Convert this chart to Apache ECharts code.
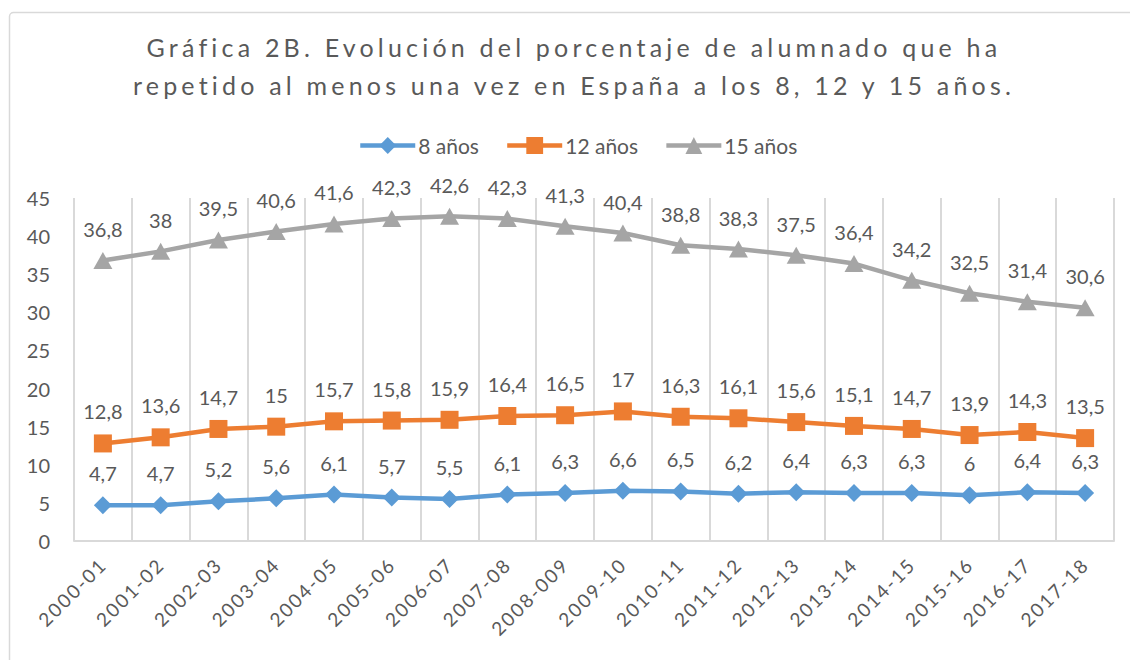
<!DOCTYPE html>
<html>
<head>
<meta charset="utf-8">
<script src="https://cdn.jsdelivr.net/npm/echarts@6/dist/echarts.min.js"></script>
<style>
  html, body { margin: 0; padding: 0; background: #fff; overflow: hidden; }
  #wrap { position: relative; width: 1130px; height: 660px; }
  #chart { position: absolute; left: 0; top: 0; width: 1130px; height: 660px; }
  #title {
    position: absolute; left: 0; top: 28px; width: 1148px;
    text-align: center; font-family: Lato, sans-serif; font-size: 25px;
    line-height: 38px; letter-spacing: 4.2px; color: #595959;
  }
</style>
</head>
<body>
<div id="wrap">
  <div id="chart"></div>
  <div id="title">Gráfica 2B. Evolución del porcentaje de alumnado que ha<br>repetido al menos una vez en España a los 8, 12 y 15 años.</div>
</div>
<script>
"use strict";

const categories = [
  "2000-01", "2001-02", "2002-03", "2003-04", "2004-05", "2005-06",
  "2006-07", "2007-08", "2008-009", "2009-10", "2010-11", "2011-12",
  "2012-13", "2013-14", "2014-15", "2015-16", "2016-17", "2017-18"
];
const edad8 = [4.7, 4.7, 5.2, 5.6, 6.1, 5.7, 5.5, 6.1, 6.3, 6.6, 6.5, 6.2, 6.4, 6.3, 6.3, 6, 6.4, 6.3];
const edad12 = [12.8, 13.6, 14.7, 15, 15.7, 15.8, 15.9, 16.4, 16.5, 17, 16.3, 16.1, 15.6, 15.1, 14.7, 13.9, 14.3, 13.5];
const edad15 = [36.8, 38, 39.5, 40.6, 41.6, 42.3, 42.6, 42.3, 41.3, 40.4, 38.8, 38.3, 37.5, 36.4, 34.2, 32.5, 31.4, 30.6];
const seriesNames = ["8 años", "12 años", "15 años"];
const colors = ["#5B9BD5", "#ED7D31", "#A5A5A5"];

const font = "Lato, sans-serif";
const textGray = "#595959";
const gridGray = "#d9d9d9";

function makeSeries(name, data, color, symbol, size) {
  return {
    name,
    type: "line",
    data,
    color,
    symbol,
    symbolSize: size,
    lineStyle: { width: 4.5, color },
    itemStyle: { color },
    label: {
      show: true,
      position: "top",
      distance: 13,
      fontFamily: font,
      fontSize: 20,
      color: textGray,
      formatter: p => String(p.value).replace(".", ",")
    },
    emphasis: { disabled: true }
  };
}

const chart = echarts.init(document.getElementById("chart"), null, {
  renderer: "svg"
});

chart.setOption({
  animation: false,
  textStyle: { fontFamily: font },
  graphic: [
    {
      type: "rect",
      shape: { x: 9.5, y: 12.5, width: 1300, height: 800, r: 4 },
      style: { fill: "none", stroke: gridGray, lineWidth: 1.5 },
      silent: true
    }
  ],
  legend: {
    top: 135,
    left: 358,
    padding: 0,
    itemWidth: 55,
    itemHeight: 21,
    itemGap: 26,
    lineStyle: { width: 4.5 },
    textStyle: { fontFamily: font, fontSize: 21, color: textGray, padding: [0, 0, 0, -2] },
    data: seriesNames
  },
  grid: { left: 74, right: 16, top: 198, bottom: 119 },
  xAxis: {
    type: "category",
    data: categories,
    boundaryGap: true,
    axisLine: { lineStyle: { color: gridGray, width: 2 } },
    axisTick: { show: false },
    splitLine: { show: true, lineStyle: { color: gridGray, width: 2 } },
    axisLabel: {
      interval: 0,
      rotate: 45,
      margin: 20,
      fontFamily: font,
      fontSize: 19,
      color: textGray
    }
  },
  yAxis: {
    type: "value",
    min: 0,
    max: 45,
    interval: 5,
    axisLine: { show: false },
    axisTick: { show: false },
    splitLine: { show: false },
    axisLabel: { margin: 24, fontFamily: font, fontSize: 20, color: textGray }
  },
  series: [
    makeSeries(seriesNames[0], edad8, colors[0], "diamond", 18),
    makeSeries(seriesNames[1], edad12, colors[1], "rect", 18),
    makeSeries(seriesNames[2], edad15, colors[2], "triangle", [19, 17])
  ]
});

// Excel spaces out the category labels a little
function spaceAxisLabels() {
  document.querySelectorAll("#chart svg text").forEach(t => {
    if (categories.indexOf(t.textContent) !== -1) {
      t.style.letterSpacing = "2px";
    }
  });
}
spaceAxisLabels();
chart.on("finished", spaceAxisLabels);
</script>
</body>
</html>
